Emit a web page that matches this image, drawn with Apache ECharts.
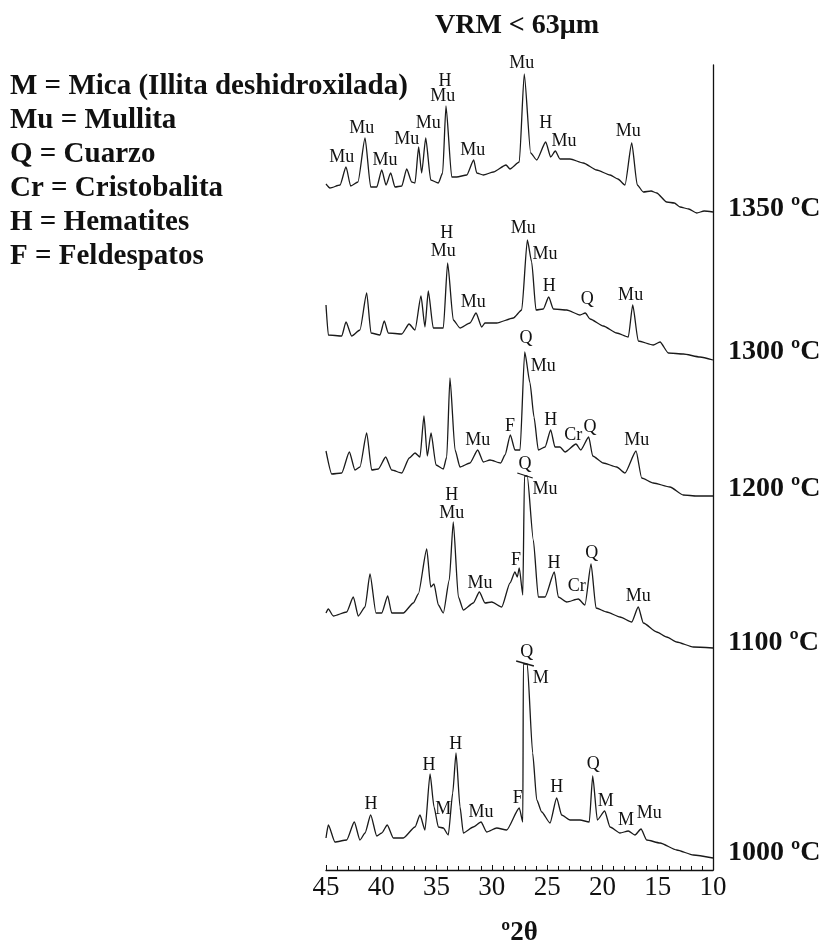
<!DOCTYPE html>
<html>
<head>
<meta charset="utf-8">
<script src="https://cdn.jsdelivr.net/npm/echarts@6/dist/echarts.min.js"></script>
<style>
  html, body { margin: 0; padding: 0; background: #ffffff; }
  #main { width: 826px; height: 942px; }
</style>
</head>
<body>
<div id="main"></div>
<script>
// temperatures, top to bottom
var temps = ["1350 ºC", "1300 ºC", "1200 ºC", "1100 ºC", "1000 ºC"];
// vertical offset of each pattern (stacked)
var offsets = [658, 510, 374, 222, 12];
var tempShift = [3, 8, 7, 5, 5];

var legendLines = [
  "M = Mica (Illita deshidroxilada)",
  "Mu = Mullita",
  "Q = Cuarzo",
  "Cr = Cristobalita",
  "H = Hematites",
  "F = Feldespatos"
];

// [º2θ, intensity]
var xrd1350 = [[45,28],[44.64,24],[43.73,27],[43.19,45],[42.77,26],[42.11,30],[41.47,74],[40.96,25],[40.41,25],[39.96,42],[39.57,27],[39.15,39],[38.76,25],[38.15,26],[37.70,43],[37.25,30],[36.95,29],[36.62,65],[36.35,39],[35.98,74],[35.53,32],[34.84,29],[34.45,39],[34.15,106],[33.63,35],[33.18,35],[32.27,37],[31.64,52],[31.37,39],[30.77,37],[29.87,40],[28.72,47],[28.36,43],[27.52,50],[27.07,138],[26.49,59],[25.94,52],[25.13,70],[24.68,55],[24.26,61],[23.84,53],[22.93,53],[21.73,49],[20.52,42],[19.31,37],[18.6,33],[17.96,27],[17.35,69],[16.85,27],[16.30,20],[15.6,21],[15.09,19],[14.19,10],[13.5,9],[12.98,5],[12.2,3],[11.47,-1],[10.8,1],[10,0]];
var xrd1300 = [[45,55],[44.79,25],[43.58,24],[43.19,38],[42.68,24],[41.93,30],[41.32,67],[40.93,27],[40.12,25],[39.73,39],[39.37,27],[38.15,26],[37.49,36],[36.95,30],[36.41,64],[36.05,33],[35.75,69],[35.30,32],[34.39,32],[34.0,97],[33.49,40],[32.88,32],[31.98,37],[31.43,47],[30.92,33],[30.62,37],[29.56,37],[28.06,42],[27.30,50],[26.79,120],[26.40,98],[26.01,50],[25.35,51],[24.86,63],[24.44,51],[23.23,50],[22.03,45],[21.55,47],[21.12,41],[19.92,34],[18.71,27],[17.66,23],[17.26,55],[16.76,19],[15.40,15],[14.79,18],[14.04,7],[12.69,6],[11.18,3],[10,0]];
var xrd1200 = [[45,45],[44.48,22],[43.58,23],[42.89,44],[42.38,26],[41.93,29],[41.32,63],[40.87,26],[40.27,27],[39.60,39],[39.06,26],[38.15,23],[37.47,38],[36.95,43],[36.50,39],[36.14,80],[35.84,40],[35.50,63],[35.05,31],[34.39,27],[34.08,39],[33.79,118],[33.33,46],[32.88,29],[31.98,33],[31.28,46],[30.77,34],[30.17,36],[29.20,33],[28.81,41],[28.33,61],[27.91,46],[27.45,46],[27.03,144],[26.55,113],[26.19,79],[25.80,46],[25.19,49],[24.68,66],[24.29,49],[23.84,49],[23.38,44],[22.39,52],[21.96,46],[21.24,59],[20.88,40],[19.92,33],[18.71,29],[17.96,23],[16.96,45],[16.45,18],[15.40,13],[13.89,9],[12.69,1],[11.47,0],[10,0]];
var xrd1100 = [[45,35],[44.79,39],[44.34,32],[43.13,36],[42.53,51],[42.08,32],[41.47,41],[41.02,74],[40.48,35],[39.96,35],[39.42,52],[39.06,35],[38.01,35],[37.10,45],[36.65,54],[35.89,99],[35.53,61],[35.23,64],[34.84,43],[34.39,35],[33.85,68],[33.49,126],[33.03,51],[32.58,38],[31.68,45],[31.13,56],[30.62,45],[30.01,46],[29.11,41],[28.36,65],[27.91,76],[27.70,71],[27.52,80],[27.20,53],[27.05,172],[26.8,172],[26.25,108],[25.80,51],[25.19,51],[24.35,76],[23.99,51],[23.23,46],[22.18,49],[21.58,43],[21.03,84],[20.58,40],[19.61,36],[18.41,31],[17.35,26],[16.76,41],[16.30,25],[15.09,16],[14.19,11],[13.28,6],[11.78,1],[10,0]];
var xrd1000 = [[45,20],[44.79,33],[44.19,16],[43.13,18],[42.44,36],[41.93,18],[41.47,25],[40.96,43],[40.41,22],[39.96,25],[39.46,33],[38.91,20],[38.01,20],[36.95,31],[36.50,43],[36.05,28],[35.59,84],[35.23,51],[34.84,31],[34.39,30],[33.94,23],[33.54,65],[33.24,105],[32.88,51],[32.58,25],[31.68,31],[30.98,36],[30.47,26],[29.56,30],[28.66,28],[27.52,50],[27.20,36],[27.15,194],[26.8,194],[26.31,105],[25.94,58],[25.49,46],[24.74,35],[24.14,60],[23.69,43],[22.93,38],[22.03,38],[21.19,36],[20.88,82],[20.46,38],[19.80,47],[19.31,31],[18.41,25],[17.66,27],[17.06,23],[16.51,29],[16.00,18],[14.79,15],[13.28,8],[11.78,3],[10,0]];

// break marks on truncated peaks
var cut1100 = [[27.7,175],[26.3,170]];
var cut1000 = [[27.8,197],[26.2,192]];

// peak labels [º2θ, height, phase]
var peaks1350 = [[43.58,55,"Mu"],[41.77,84,"Mu"],[39.66,52,"Mu"],[37.70,73,"Mu"],[35.75,89,"Mu"],[34.24,131,"H"],[34.45,116,"Mu"],[31.73,62,"Mu"],[27.30,149,"Mu"],[25.13,89,"H"],[23.47,71,"Mu"],[17.66,81,"Mu"]];
var peaks1300 = [[34.08,127,"H"],[34.39,109,"Mu"],[31.68,58,"Mu"],[27.16,132,"Mu"],[25.19,106,"Mu"],[24.80,74,"H"],[21.37,61,"Q"],[17.45,65,"Mu"]];
var peaks1200 = [[26.91,158,"Q"],[25.35,130,"Mu"],[31.28,56,"Mu"],[28.36,70,"F"],[24.68,76,"H"],[22.63,61,"Cr"],[21.12,69,"Q"],[16.90,56,"Mu"]];
var peaks1100 = [[27.0,184,"Q"],[25.19,159,"Mu"],[33.63,153,"H"],[33.63,135,"Mu"],[31.07,65,"Mu"],[27.82,88,"F"],[24.38,85,"H"],[22.33,62,"Cr"],[20.97,95,"Q"],[16.76,52,"Mu"]];
var peaks1000 = [[26.85,206,"Q"],[25.58,180,"M"],[40.93,54,"H"],[35.68,93,"H"],[34.39,49,"M"],[33.27,114,"H"],[30.98,46,"Mu"],[27.66,60,"F"],[24.14,71,"H"],[20.82,94,"Q"],[19.70,57,"M"],[17.87,38,"M"],[15.76,45,"Mu"]];

var traces = [xrd1350, xrd1300, xrd1200, xrd1100, xrd1000];
var peakSets = [peaks1350, peaks1300, peaks1200, peaks1100, peaks1000];
var cuts = [null, null, null, cut1100, cut1000];

var serif = "Liberation Serif, Times New Roman, serif";
var ink = "#111111";

var chart = echarts.init(document.getElementById("main"));

function shift(arr, off) {
  return arr.map(function (d) { return [d[0], d[1] + off]; });
}

var series = [];
traces.forEach(function (tr, i) {
  series.push({
    type: "line",
    data: shift(tr, offsets[i]),
    showSymbol: false,
    silent: true,
    clip: false,
    smooth: 0.2,
    smoothMonotone: "x",
    lineStyle: { color: "#1a1a1a", width: 1.3 }
  });
  if (cuts[i]) {
    series.push({
      type: "line",
      data: shift(cuts[i], offsets[i]),
      showSymbol: false,
      silent: true,
      clip: false,
      lineStyle: { color: "#1a1a1a", width: 1.3 }
    });
  }
});

var peakData = [];
peakSets.forEach(function (ps, i) {
  ps.forEach(function (p) {
    peakData.push({ value: [p[0], p[1] + offsets[i]], name: p[2] });
  });
});
series.push({
  type: "scatter",
  data: peakData,
  symbolSize: 0,
  silent: true,
  clip: false,
  itemStyle: { color: "transparent", opacity: 1 },
  label: {
    show: true,
    position: "inside",
    formatter: "{b}",
    fontFamily: serif,
    fontSize: 18,
    color: ink,
    opacity: 1
  }
});

series.push({
  type: "scatter",
  data: temps.map(function (t, i) {
    return { value: [10, offsets[i] + tempShift[i]], name: t };
  }),
  symbolSize: 0,
  silent: true,
  clip: false,
  itemStyle: { color: "transparent", opacity: 1 },
  label: {
    show: true,
    position: "right",
    distance: 15,
    formatter: "{b}",
    fontFamily: serif,
    fontSize: 28,
    fontWeight: "bold",
    color: ink,
    opacity: 1
  }
});

chart.setOption({
  animation: false,
  backgroundColor: "#ffffff",
  title: [
    {
      text: "VRM < 63μm",
      left: 435,
      top: 12,
      padding: 0,
      textStyle: { fontFamily: serif, fontSize: 28, fontWeight: "bold", color: ink }
    },
    {
      text: legendLines.join("\n"),
      left: 10,
      top: 70,
      padding: 0,
      textStyle: { fontFamily: serif, fontSize: 29, fontWeight: "bold", color: ink, lineHeight: 34 }
    }
  ],
  grid: { left: 326, right: 113, top: 65, bottom: 72, outerBoundsMode: "none" },
  xAxis: {
    type: "value",
    min: 10,
    max: 45,
    interval: 5,
    inverse: true,
    name: "º2θ",
    nameLocation: "middle",
    nameGap: 50,
    nameTextStyle: { fontFamily: serif, fontSize: 27, fontWeight: "bold", color: ink },
    axisLine: { show: true, onZero: false, lineStyle: { color: ink, width: 1.3 } },
    axisTick: { show: true, inside: true, length: 5, lineStyle: { color: ink } },
    minorTick: { show: true, splitNumber: 5, length: 4, lineStyle: { color: ink } },
    axisLabel: { fontFamily: serif, fontSize: 27, color: ink, margin: 4 },
    splitLine: { show: false }
  },
  yAxis: {
    type: "value",
    min: 0,
    max: 805,
    position: "right",
    axisLine: { show: true, lineStyle: { color: ink, width: 1.3 } },
    axisTick: { show: false },
    axisLabel: { show: false },
    splitLine: { show: false }
  },
  series: series
});
</script>
</body>
</html>
